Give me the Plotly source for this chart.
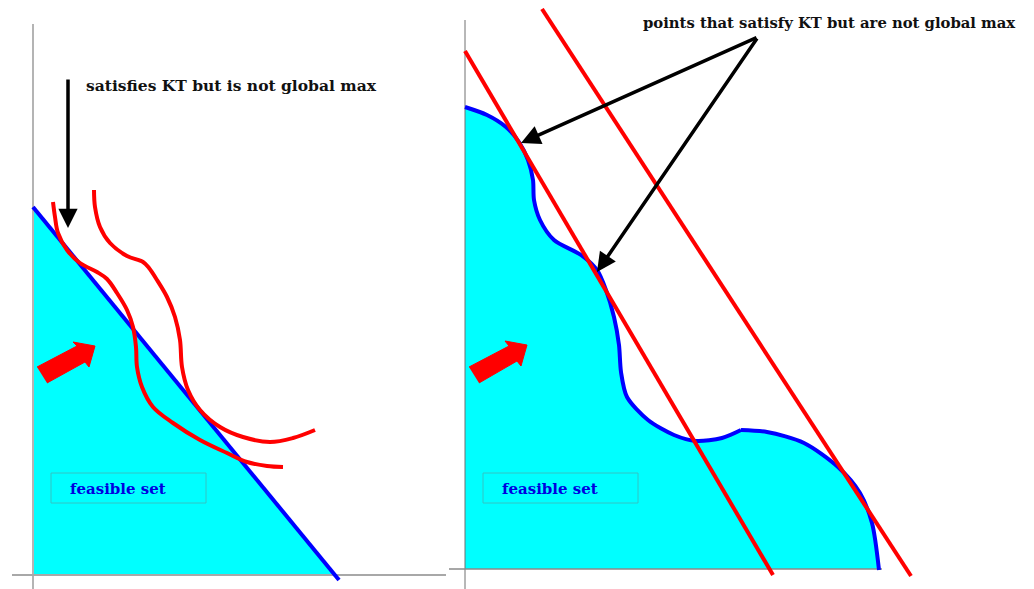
import plotly.graph_objects as go

# --- left panel: linear constraint, wavy indifference curves ---
left_feasible_x = [33, 33, 335]
left_feasible_y = [207, 575, 575]
left_budget_x = [33, 339]
left_budget_y = [207, 580]

left_curve_a_x = [53, 55, 58, 67, 80, 97, 107, 117, 127, 133, 136, 137, 142, 153, 173, 200, 227, 247, 267, 283]
left_curve_a_y = [202, 217, 233, 250, 263, 272, 279, 293, 310, 327, 347, 367, 387, 407, 423, 440, 453, 462, 466, 467]
left_curve_b_x = [94, 95, 100, 110, 127, 143, 149, 157, 167, 175, 180, 182, 188, 200, 220, 243, 270, 293, 315]
left_curve_b_y = [190, 207, 227, 243, 256, 262, 268, 280, 297, 317, 340, 367, 390, 410, 427, 437, 442, 438, 430]

left_arrow_x = [37, 77, 73, 95, 89, 85, 47]
left_arrow_y = [367, 346, 342, 346, 367, 362, 383]

# --- right panel: wavy feasible set, straight indifference lines ---
right_bound_x = [465, 487, 506, 519, 528, 533, 534, 540, 554, 581, 597, 606, 614, 619, 621, 627, 648, 674, 696, 722, 741,
                 767, 804, 838, 860, 872, 879]
right_bound_y = [107, 115, 127, 142, 160, 180, 200, 220, 240, 255, 270, 290, 317, 345, 372, 397, 420, 435, 441, 438, 430,
                 432, 443, 467, 493, 523, 570]
kink = 20

right_line1_x = [465, 773]
right_line1_y = [51, 575]
right_line2_x = [542, 911]
right_line2_y = [9, 576]

right_arrow_x = [469, 509, 505, 527, 521, 517, 479]
right_arrow_y = [367, 346, 341, 345, 366, 361, 383]

kt_points_x = [521, 597]
kt_points_y = [143, 272]

RED = "#ff0000"
BLUE = "#0000ff"
CYAN = "#00ffff"
PAGE_OFFSET = 8  # default body margin of the html page

fig = go.Figure()

# left feasible triangle
fig.add_trace(go.Scatter(x=left_feasible_x, y=left_feasible_y, fill="toself", fillcolor=CYAN,
                         mode="lines", line=dict(width=0), hoverinfo="skip"))

# right feasible set (baseline + curved frontier)
fig.add_trace(go.Scatter(x=[465, 879], y=[569, 569], mode="lines", line=dict(width=0), hoverinfo="skip"))
fig.add_trace(go.Scatter(x=right_bound_x, y=right_bound_y, fill="tonexty", fillcolor=CYAN,
                         mode="lines", line=dict(width=0, shape="spline", smoothing=0.8), hoverinfo="skip"))

# axes
fig.add_trace(go.Scatter(x=[33, 33], y=[24, 589], mode="lines", line=dict(color="#b4b4b4", width=2)))
fig.add_trace(go.Scatter(x=[12, 446], y=[575, 575], mode="lines", line=dict(color="#a8a8a8", width=2)))
fig.add_trace(go.Scatter(x=[465, 465], y=[20, 589], mode="lines", line=dict(color="#707070", width=1)))
fig.add_trace(go.Scatter(x=[449, 882], y=[569, 569], mode="lines", line=dict(color="#8a8a8a", width=1.5)))

# boundaries
fig.add_trace(go.Scatter(x=left_budget_x, y=left_budget_y, mode="lines", line=dict(color=BLUE, width=4)))
fig.add_trace(go.Scatter(x=right_bound_x[:kink + 1], y=right_bound_y[:kink + 1], mode="lines",
                         line=dict(color=BLUE, width=4, shape="spline", smoothing=0.8)))
fig.add_trace(go.Scatter(x=right_bound_x[kink:], y=right_bound_y[kink:], mode="lines",
                         line=dict(color=BLUE, width=4, shape="spline", smoothing=0.8)))

# indifference curves / lines
for cx, cy in [(left_curve_a_x, left_curve_a_y), (left_curve_b_x, left_curve_b_y)]:
    fig.add_trace(go.Scatter(x=cx, y=cy, mode="lines",
                             line=dict(color=RED, width=4, shape="spline", smoothing=1)))
for lx, ly in [(right_line1_x, right_line1_y), (right_line2_x, right_line2_y)]:
    fig.add_trace(go.Scatter(x=lx, y=ly, mode="lines", line=dict(color=RED, width=4)))

# fat red direction arrows
for ax_, ay_ in [(left_arrow_x, left_arrow_y), (right_arrow_x, right_arrow_y)]:
    fig.add_trace(go.Scatter(x=ax_, y=ay_, fill="toself", fillcolor=RED, mode="lines",
                             line=dict(color=RED, width=1), hoverinfo="skip"))

# feasible set labels
for x0, x1 in [(51, 206), (483, 638)]:
    fig.add_shape(type="rect", x0=x0, x1=x1, y0=473, y1=503, xref="x", yref="y",
                  line=dict(color="#33c4c4", width=1), fillcolor=CYAN)
    fig.add_annotation(x=x0 + 17, y=489, text="<b>feasible set</b>", showarrow=False, xanchor="left",
                       font=dict(family="DejaVu Serif", size=15, color="#0000e0"))

# black pointer arrows
fig.add_annotation(x=68, y=228, ax=68, ay=78, axref="x", ayref="y", xref="x", yref="y", text="",
                   showarrow=True, arrowhead=2, arrowsize=1.1, arrowwidth=3.5, arrowcolor="black")
for tx, ty in zip(kt_points_x, kt_points_y):
    fig.add_annotation(x=tx, y=ty, ax=758, ay=37, axref="x", ayref="y", xref="x", yref="y", text="",
                       showarrow=True, arrowhead=2, arrowsize=1.1, arrowwidth=3.5, arrowcolor="black")

fig.add_annotation(x=84, y=85, text="<b>satisfies KT but is not global max</b>", showarrow=False,
                   xanchor="left", font=dict(family="DejaVu Serif", size=15.5, color="#111111"))
fig.add_annotation(x=641, y=22, text="<b>points that satisfy KT but are not global max</b>", showarrow=False,
                   xanchor="left", font=dict(family="DejaVu Serif", size=14.8, color="#111111"))

fig.update_layout(width=1034, height=589, margin=dict(l=0, r=0, t=0, b=0),
                  plot_bgcolor="white", paper_bgcolor="white", showlegend=False)
fig.update_xaxes(range=[PAGE_OFFSET, 1034 + PAGE_OFFSET], visible=False, fixedrange=True)
fig.update_yaxes(range=[589 + PAGE_OFFSET, PAGE_OFFSET], visible=False, fixedrange=True)

fig.write_html("out.html")
